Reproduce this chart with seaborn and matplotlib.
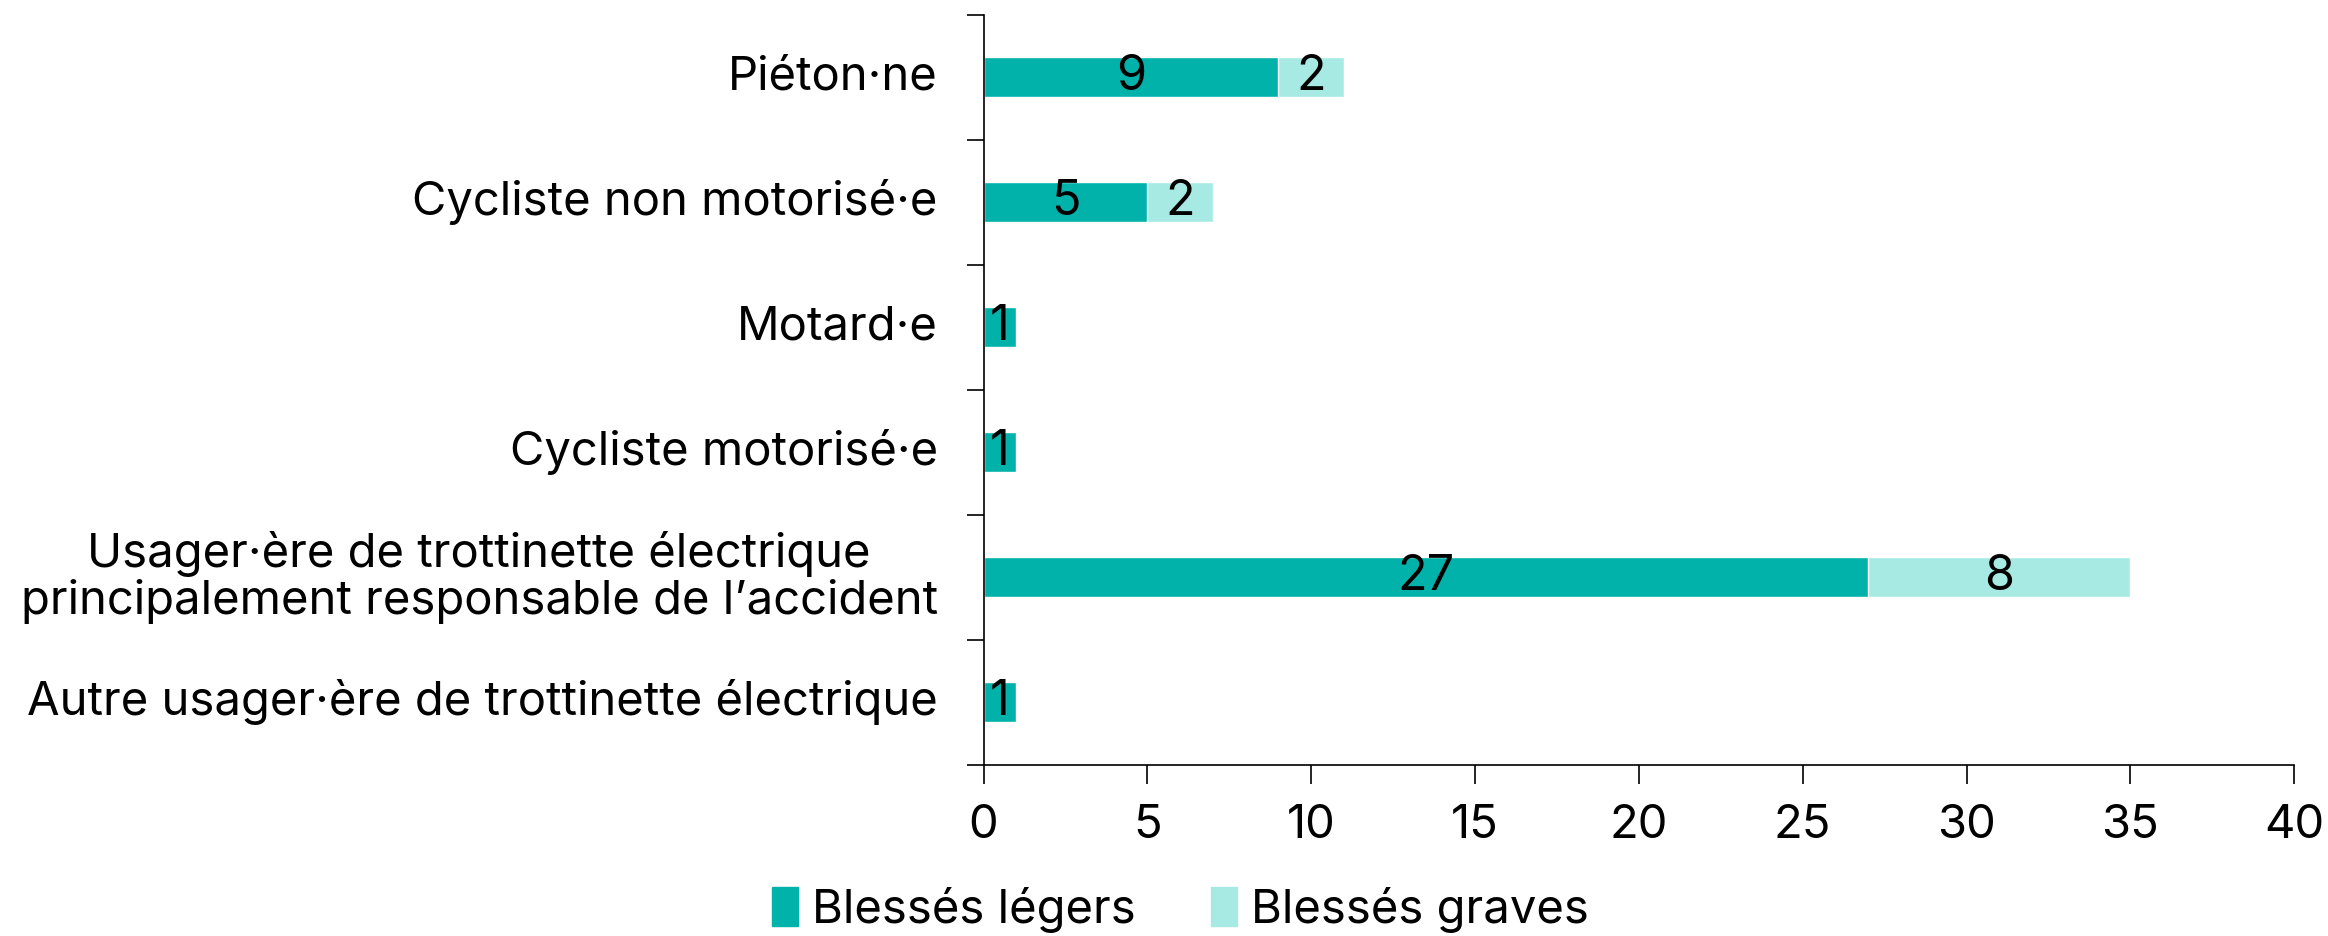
import pandas as pd
import seaborn as sns
import matplotlib.pyplot as plt
import matplotlib.patches as mpatches
import numpy as np

sns.set_style("white")
plt.rcParams['font.family'] = ['Inter', 'DejaVu Sans']
plt.rcParams['text.color'] = 'black'
plt.rcParams['xtick.color'] = 'black'
plt.rcParams['ytick.color'] = 'black'

# data
categories = [
    "Piéton·ne",
    "Cycliste non motorisé·e",
    "Motard·e",
    "Cycliste motorisé·e",
    "Usager·ère de trottinette électrique\nprincipalement responsable de l’accident",
    "Autre usager·ère de trottinette électrique",
]
legers = [9, 5, 1, 1, 27, 1]
graves = [2, 2, 0, 0, 8, 0]

col_legers = "#00B2AA"
col_graves = "#A6EAE3"

df = pd.DataFrame({"cat": categories, "legers": legers, "graves": graves})
df["total"] = df["legers"] + df["graves"]

fig = plt.figure(figsize=(23.28, 9.36), dpi=100)
ax = fig.add_axes([0.4225, 0.183, 0.563, 0.801])

sns.barplot(data=df, y="cat", x="total", color=col_graves, width=0.32,
            saturation=1, ax=ax, orient="h")
sns.barplot(data=df, y="cat", x="legers", color=col_legers, width=0.32,
            saturation=1, ax=ax, orient="h")

# value labels
for i, row in df.iterrows():
    ax.text(row["legers"] / 2, i, str(row["legers"]), ha="center", va="center",
            fontsize=35, color="black")
    if row["graves"] > 0:
        ax.text(row["legers"] + row["graves"] / 2, i, str(row["graves"]),
                ha="center", va="center", fontsize=35, color="black")

ax.set_xlim(0, 40)
ax.set_ylim(5.5, -0.5)
ax.set_xticks(np.arange(0, 41, 5))
ax.tick_params(axis="x", bottom=True, labelsize=34, length=14, width=1.2,
               pad=14, direction="out", colors="black")
ax.set_yticks(np.arange(-0.5, 6, 1))
ax.set_yticklabels([])
ax.tick_params(axis="y", left=True, length=12, width=1.2, direction="out",
               colors="black")
for i, c in enumerate(categories):
    ax.text(-0.035, i, c, transform=ax.get_yaxis_transform(), ha="right",
            va="center", multialignment="center", fontsize=34, linespacing=1.05,
            color="black")

ax.set_xlabel("")
ax.set_ylabel("")
sns.despine(ax=ax)
ax.spines["left"].set_linewidth(1.2)
ax.spines["bottom"].set_linewidth(1.2)
ax.spines["left"].set_color("black")
ax.spines["bottom"].set_color("black")

handles = [mpatches.Patch(color=col_legers, label="Blessés légers"),
           mpatches.Patch(color=col_graves, label="Blessés graves")]
fig.legend(handles=handles, loc="center", bbox_to_anchor=(0.507, 0.028), ncol=2,
           frameon=False, fontsize=34, handlelength=0.55, handleheight=0.9,
           handletextpad=0.3, columnspacing=1.6)

fig.savefig("out.png", dpi=100)
